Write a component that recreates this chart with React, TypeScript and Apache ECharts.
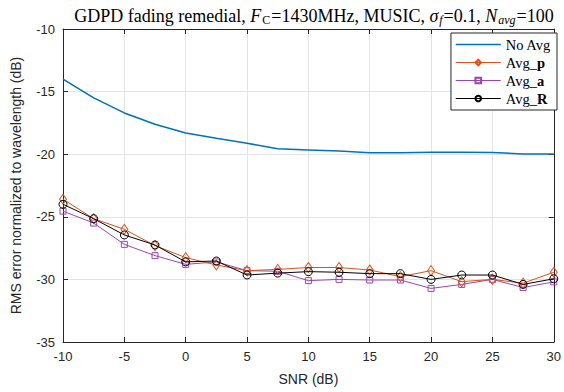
import React, { useEffect, useRef } from "react";
import * as echarts from "echarts";

const snr = [-10, -7.5, -5, -2.5, 0, 2.5, 5, 7.5, 10, 12.5, 15, 17.5, 20, 22.5, 25, 27.5, 30];
const noAvg = [-14.0, -15.5, -16.7, -17.6, -18.3, -18.73, -19.13, -19.56, -19.66, -19.75, -19.88, -19.88, -19.84, -19.85, -19.86, -19.98, -19.98];
const avgP = [-23.6, -25.15, -26.0, -27.3, -28.26, -28.85, -29.3, -29.2, -29.05, -29.05, -29.25, -29.78, -29.3, -30.18, -30.0, -30.3, -29.43];
const avgA = [-24.55, -25.5, -27.2, -28.1, -28.8, -28.6, -29.3, -29.35, -30.1, -30.0, -30.05, -30.05, -30.72, -30.4, -30.0, -30.65, -30.2];
const avgR = [-24.0, -25.15, -26.45, -27.25, -28.6, -28.53, -29.65, -29.5, -29.38, -29.43, -29.54, -29.54, -30.0, -29.65, -29.65, -30.4, -29.95];

const seriesNames = ["No Avg", "Avg_p", "Avg_a", "Avg_R"];
const seriesColors = ["#0072BD", "#D95319", "#9B46B0", "#000000"];
const xTicks = { min: -10, max: 30, interval: 5 };
const yTicks = { min: -35, max: -10, interval: 5 };

const axisColor = "#262626";
const serif = "'Liberation Serif', 'DejaVu Serif', serif";
const sans = "'Liberation Sans', Arial, sans-serif";

export default function App() {
  const ref = useRef<HTMLDivElement>(null);
  useEffect(() => {
    if (!ref.current) return;
    const chart = echarts.init(ref.current, undefined, { renderer: "svg" });
    const pairs = (ys: number[]) => snr.map((x, i) => [x, ys[i]]);
    const grid = { left: 63, right: 8, top: 29, bottom: 50 };
    const baseX = {
      type: "value" as const,
      min: xTicks.min,
      max: xTicks.max,
      interval: xTicks.interval,
    };
    const baseY = {
      type: "value" as const,
      min: yTicks.min,
      max: yTicks.max,
      interval: yTicks.interval,
    };
    const mk = (name: string, ys: number[], color: string, symbol: string, size: any, z: number) => ({
      name,
      type: "line",
      data: pairs(ys),
      symbol,
      symbolSize: size,
      showSymbol: symbol !== "none",
      z,
      lineStyle: { color, width: symbol === "none" ? 1.6 : 1 },
      itemStyle: { color: "rgba(255,255,255,0)", borderColor: color, borderWidth: 1 },
      color,
    });
    const sub = { fontFamily: serif, fontSize: 12, fontWeight: "normal", fontStyle: "italic", color: "#000", padding: [9, 1, 0, 1] };
    chart.setOption({
      animation: false,
      title: {
        text:
          "{r|GDPD fading remedial, }{i|F}{s|C}{r|=1430MHz, MUSIC, }{i|σ}{si|f}{r|=0.1, }{i|N}{si|avg}{r|=100}",
        left: 309,
        textAlign: "center",
        top: 0,
        textStyle: {
          fontWeight: "normal",
          rich: {
            r: { fontFamily: serif, fontSize: 18, fontWeight: "normal", color: "#000" },
            i: { fontFamily: serif, fontSize: 18, fontWeight: "normal", fontStyle: "italic", color: "#000" },
            s: { ...sub, fontStyle: "normal" },
            si: sub,
          },
        },
      },
      grid,
      legend: {
        right: 7,
        top: 33,
        orient: "vertical",
        data: seriesNames.map((n, i) => ({
          name: n,
          itemStyle: i === 0 ? { opacity: 0 } : undefined,
          lineStyle: { width: i === 0 ? 1.6 : 1, color: seriesColors[i] },
        })),
        itemWidth: 45,
        itemHeight: 7,
        itemGap: 3,
        padding: [4, 6, 4, 4],
        borderColor: axisColor,
        borderWidth: 1,
        backgroundColor: "#fff",
        formatter: (name: string) => {
          if (name === "No Avg") return "{n|No Avg}";
          const parts = name.split("_");
          return "{n|" + parts[0] + "_}{b|" + parts[1] + "}";
        },
        textStyle: {
          rich: {
            n: { fontFamily: serif, fontSize: 14.5, lineHeight: 14, color: "#000" },
            b: { fontFamily: serif, fontSize: 14.5, lineHeight: 14, fontWeight: "bold", color: "#000" },
          },
        },
      },
      xAxis: [
        {
          ...baseX,
          name: "SNR (dB)",
          nameLocation: "middle",
          nameGap: 30,
          nameTextStyle: { fontFamily: sans, fontSize: 14, color: axisColor },
          axisLine: { onZero: false, lineStyle: { color: axisColor, width: 1 } },
          axisTick: { inside: true, length: 5, lineStyle: { color: axisColor } },
          axisLabel: { fontFamily: sans, fontSize: 13, color: axisColor, margin: 8 },
          splitLine: { show: true, lineStyle: { color: "#e3e3e3", width: 1 } },
        },
        {
          ...baseX,
          position: "top",
          axisLine: { onZero: false, lineStyle: { color: axisColor, width: 1 } },
          axisTick: { inside: true, length: 5, lineStyle: { color: axisColor } },
          axisLabel: { show: false },
          splitLine: { show: false },
        },
      ],
      yAxis: [
        {
          ...baseY,
          name: "RMS error normalized to wavelength (dB)",
          nameLocation: "middle",
          nameGap: 40,
          nameTextStyle: { fontFamily: sans, fontSize: 14, color: axisColor },
          axisLine: { show: true, onZero: false, lineStyle: { color: axisColor, width: 1 } },
          axisTick: { show: true, inside: true, length: 5, lineStyle: { color: axisColor } },
          axisLabel: { fontFamily: sans, fontSize: 13, color: axisColor, margin: 8 },
          splitLine: { show: true, lineStyle: { color: "#e3e3e3", width: 1 } },
        },
        {
          ...baseY,
          position: "right",
          axisLine: { show: true, onZero: false, lineStyle: { color: axisColor, width: 1 } },
          axisTick: { show: true, inside: true, length: 5, lineStyle: { color: axisColor } },
          axisLabel: { show: false },
          splitLine: { show: false },
        },
      ],
      series: [
        mk(seriesNames[0], noAvg, seriesColors[0], "none", 0, 5),
        mk(seriesNames[1], avgP, seriesColors[1], "diamond", [7, 10], 4),
        mk(seriesNames[2], avgA, seriesColors[2], "rect", 6, 3),
        mk(seriesNames[3], avgR, seriesColors[3], "circle", 8, 6),
      ],
    });
    return () => chart.dispose();
  }, []);
  return <div ref={ref} style={{ width: 564, height: 392, position: "absolute", left: 0, top: 0 }} />;
}
